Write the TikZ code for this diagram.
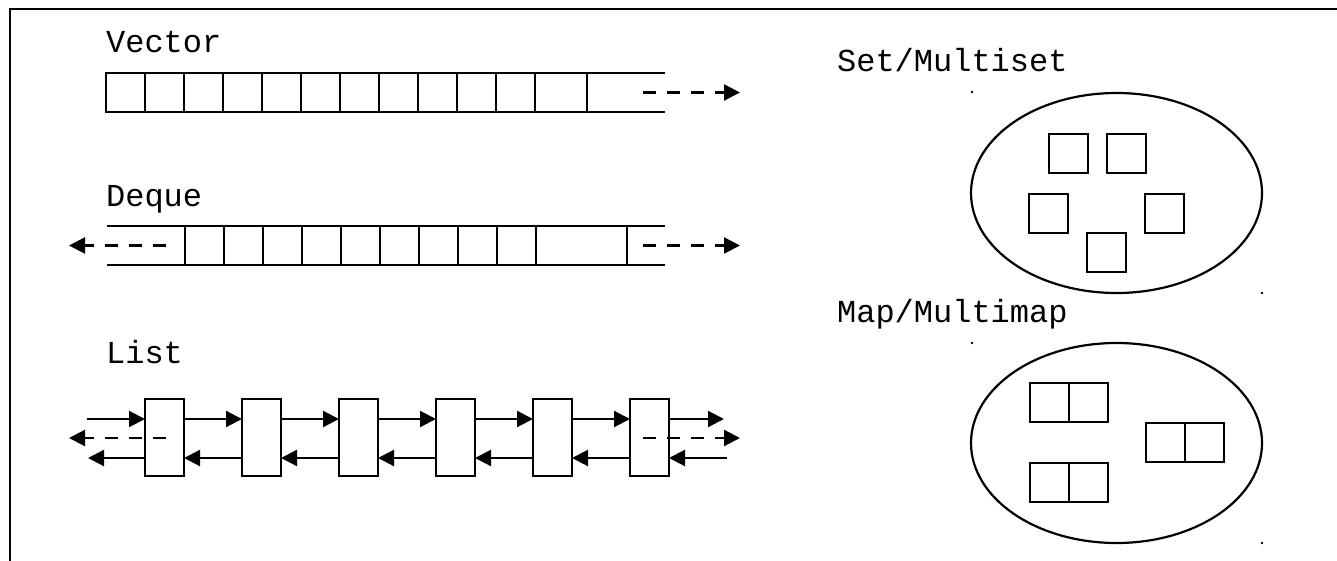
\documentclass[tikz,border=0pt]{standalone}
\usepackage{fontspec}
\newfontfamily\labelfont{Liberation Mono}
\usetikzlibrary{arrows.meta,shapes.geometric}

\tikzset{
  cell/.style={draw,minimum width=39pt,minimum height=39pt,inner sep=0pt,outer sep=0pt,anchor=north west},
  listbox/.style={cell,minimum height=77pt},
  arr/.style={-{Triangle[length=16pt,width=16pt]}},
  dasharr/.style={arr,dash pattern=on 13pt off 11pt},
  lbl/.style={anchor=base west,inner sep=0pt,font=\labelfont\fontsize{32}{38}\selectfont},
  bag/.style={draw,ellipse,minimum width=291pt,minimum height=200pt,inner sep=0pt}
}

\begin{document}
\begin{tikzpicture}[x=1pt,y=-1pt,line width=2.2pt]
  \useasboundingbox (0,0) rectangle (1337,561);

  % Frame (top and left side only)
  \coordinate (fbl) at (10,561);
  \coordinate (ftl) at (10,9);
  \coordinate (ftr) at (1337,9);
  \draw (fbl) -- (ftl) -- (ftr);

  % Vector
  \node[lbl] (vlabel) at (105,53) {Vector};
  \foreach \i in {1,...,11}
    \node[cell] (v\i) at ({106+39*(\i-1)},73) {};
  \node[cell,minimum width=52pt] (v12) at (535,73) {};
  \coordinate (vtop) at (665,73);
  \coordinate (vbot) at (665,112);
  \draw (v12.north east) -- (vtop);
  \draw (v12.south east) -- (vbot);
  \coordinate (vgo) at (643,92.5);
  \coordinate (vtip) at (740,92.5);
  \draw[dasharr] (vgo) -- (vtip);

  % Deque
  \node[lbl] (dlabel) at (105,207) {Deque};
  \coordinate (dtl) at (107,226);
  \coordinate (dtr) at (665,226);
  \coordinate (dbl) at (107,265);
  \coordinate (dbr) at (665,265);
  \draw (dtl) -- (dtr);
  \draw (dbl) -- (dbr);
  \foreach \i in {1,...,9}
    \node[cell] (d\i) at ({185+39*(\i-1)},226) {};
  \node[cell,minimum width=91pt] (d10) at (536,226) {};
  \coordinate (dlgo) at (166,245.5);
  \coordinate (dltip) at (69,245.5);
  \coordinate (drgo) at (643,245.5);
  \coordinate (drtip) at (740,245.5);
  \draw[dasharr] (dlgo) -- (dltip);
  \draw[dasharr] (drgo) -- (drtip);

  % List
  \node[lbl] (llabel) at (105,363) {List};
  \foreach \i in {1,...,6}
    \node[listbox] (l\i) at ({145+97*(\i-1)},399) {};
  \foreach \i [evaluate=\i as \j using int(\i+1)] in {1,...,5} {
    \draw[arr] ([yshift=-20pt]l\i.north east) -- ([yshift=-20pt]l\j.north west);
    \draw[arr] ([yshift=18pt]l\j.south west) -- ([yshift=18pt]l\i.south east);
  }
  \coordinate (lin) at (87,419);
  \coordinate (lout) at (724,419);
  \coordinate (lback) at (88,458);
  \coordinate (lfrom) at (727,458);
  \draw[arr] (lin) -- ([yshift=-20pt]l1.north west);
  \draw[arr] ([yshift=-20pt]l6.north east) -- (lout);
  \draw[arr] ([yshift=18pt]l1.south west) -- (lback);
  \draw[arr] (lfrom) -- ([yshift=18pt]l6.south east);
  \coordinate (llgo) at (166,438);
  \coordinate (lltip) at (69,438);
  \coordinate (lrgo) at (643,438);
  \coordinate (lrtip) at (740,438);
  \draw[dasharr] (llgo) -- (lltip);
  \draw[dasharr] (lrgo) -- (lrtip);

  % Set/Multiset
  \node[lbl] (slabel) at (836,72) {Set/Multiset};
  \node[bag] (setbag) at (1116.5,193) {};
  \node[cell] (s1) at (1049,134) {};
  \node[cell] (s2) at (1107,134) {};
  \node[cell] (s3) at (1029,194) {};
  \node[cell] (s4) at (1145,194) {};
  \node[cell] (s5) at (1087,233) {};
  \fill (972,92) circle[radius=1.3pt];
  \fill (1262,293) circle[radius=1.3pt];

  % Map/Multimap
  \node[lbl] (mlabel) at (836,322) {Map/Multimap};
  \node[bag] (mapbag) at (1116.5,443) {};
  \node[cell] (m1k) at (1030,383) {};
  \node[cell] (m1v) at (1069,383) {};
  \node[cell] (m2k) at (1146,423) {};
  \node[cell] (m2v) at (1185,423) {};
  \node[cell] (m3k) at (1030,463) {};
  \node[cell] (m3v) at (1069,463) {};
  \fill (972,343) circle[radius=1.3pt];
  \fill (1262,543) circle[radius=1.3pt];
\end{tikzpicture}
\end{document}
